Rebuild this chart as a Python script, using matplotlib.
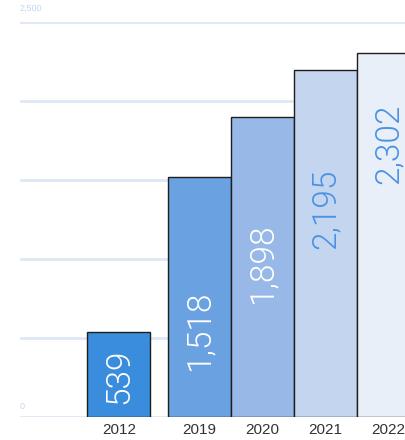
import numpy as np
import matplotlib.pyplot as plt

years = ["2012", "2019", "2020", "2021", "2022"]
values = [539, 1518, 1898, 2195, 2302]
bar_colors = ["#3a8ddd", "#6aa1e1", "#98b9e7", "#c4d5f0", "#e9eff9"]
label_colors = ["white", "white", "white", "#4a93e2", "#4a93e2"]
# where the value label sits, as a fraction of the bar height
label_frac = [0.475, 0.36, 0.51, 0.60, 0.75]

plt.rcParams['font.family'] = ['Liberation Sans', 'DejaVu Sans']

fig = plt.figure(figsize=(4.06, 4.40), dpi=100)
ax = fig.add_axes([20 / 406, 23 / 440, 386 / 406, 395 / 440])

gap = 0.28
x = np.arange(len(years)) + gap * (np.arange(len(years)) > 0)

for yv in range(0, 2501, 500):
    ax.axhline(yv, color="#dfe7f6", lw=2, zorder=0)

ax.bar(x, values, width=1.0, color=bar_colors, edgecolor="#1e1e1e",
       linewidth=1.0, zorder=2)

for xi, v, c, f in zip(x, values, label_colors, label_frac):
    ax.text(xi, v * f, f"{v:,}", rotation=90, ha="center", va="center",
            color=c, fontsize=24, family=["Roboto", "DejaVu Sans"],
            fontweight=300, zorder=3)

ax.set_xlim(-1.571, 4.556)
ax.set_ylim(0, 2500)
ax.set_xticks(x)
ax.set_xticklabels(years, fontsize=11, color="#333333")
ax.tick_params(axis="x", length=0, pad=4)
ax.set_yticks([])
for s in ax.spines.values():
    s.set_visible(False)

ax.text(-1.571, 2560, "2,500", fontsize=6.5, color="#c5d6f0", ha="left", va="bottom")
ax.text(-1.571, 40, "0", fontsize=6.5, color="#c5d6f0", ha="left", va="bottom")

fig.savefig("out.png", dpi=100)
